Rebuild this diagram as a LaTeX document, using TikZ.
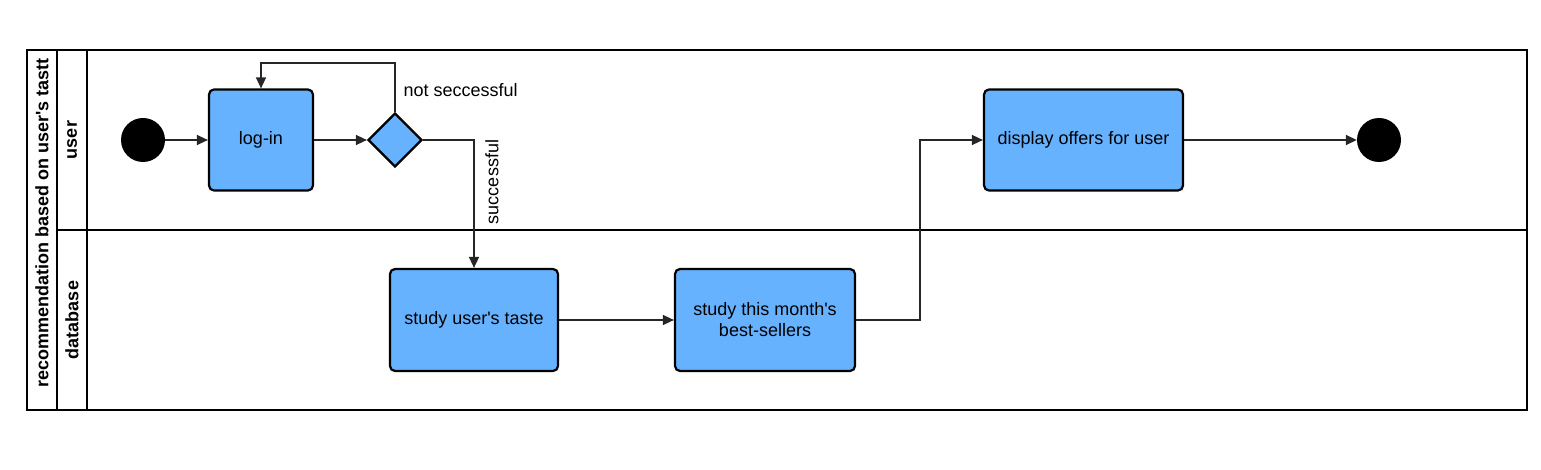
\documentclass[tikz,border=0pt]{standalone}
\usepackage{fontspec}
\setmainfont{Liberation Sans}[Ligatures=TeXOff]
\usetikzlibrary{shapes.geometric,arrows.meta}
\begin{document}
\begin{tikzpicture}[x=1pt,y=-1pt,
  act/.style={draw=black,line width=2.2pt,fill=actblue,rounded corners=5pt,align=center,inner sep=0pt,font=\fontsize{18}{21}\selectfont},
  dot/.style={circle,fill=black,minimum size=44pt,inner sep=0pt},
  flow/.style={line width=1.5pt,draw=black!85,-{Triangle[length=11pt,width=10pt]}},
  lbl/.style={font=\fontsize{18}{21}\selectfont},
  lanetxt/.style={font=\bfseries\fontsize{18}{21}\selectfont,rotate=90}]
\definecolor{actblue}{HTML}{66B2FF}
\useasboundingbox (0,0) rectangle (1541,470);
% pool
\draw[line width=1.5pt] (27,50) rectangle (1527,410);
\draw[line width=1.5pt] (57,50) -- (57,410);
\draw[line width=1.5pt] (87,50) -- (87,410);
\draw[line width=1.5pt] (57,230) -- (1527,230);
\node[lanetxt] (title) at (42,223) {recommendation based on user's tastt};
\node[lanetxt] (luser) at (72,140) {user};
\node[lanetxt] (ldb) at (72,320) {database};
% nodes
\node[dot] (start) at (143,140) {};
\node[act,minimum width=104pt,minimum height=101pt] (login) at (261,140) {log-in};
\node[diamond,draw=black,line width=2.2pt,fill=actblue,minimum width=54pt,minimum height=54pt,inner sep=0pt] (dec) at (395,140) {};
\node[act,minimum width=168pt,minimum height=102pt] (taste) at (474,320) {study user's taste};
\node[act,minimum width=180pt,minimum height=102pt] (best) at (765,320) {study this month's\\best-sellers};
\node[act,minimum width=199pt,minimum height=101pt] (disp) at (1083.5,140) {display offers for user};
\node[dot] (end) at (1379,140) {};
\coordinate (c1) at (395,63);
\coordinate (c2) at (261,63);
\coordinate (c3) at (474,140);
\coordinate (c4) at (920,320);
\coordinate (c5) at (920,140);
% connectors
\draw[flow] (start) -- (login);
\draw[flow] (login) -- (dec);
\draw[flow] (dec.north) -- (c1) -- (c2) -- (login.north);
\draw[flow] (dec.east) -- (c3) -- (taste.north);
\draw[flow] (taste) -- (best);
\draw[flow] (best.east) -- (c4) -- (c5) -- (disp.west);
\draw[flow] (disp) -- (end);
\node[lbl,anchor=west] (ns) at (400,90) {not seccessful};
\node[lbl,rotate=90] (ok) at (492,182) {successful};
\end{tikzpicture}
\end{document}
